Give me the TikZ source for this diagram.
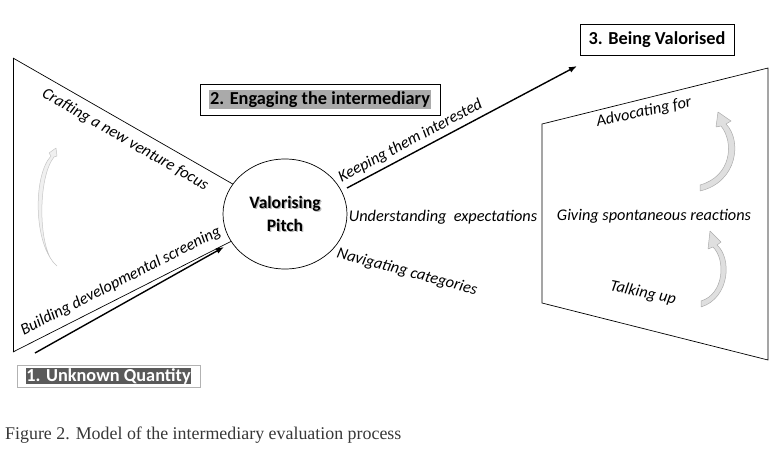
\documentclass[tikz,border=0pt]{standalone}
\usepackage{fontspec}
\setmainfont{Carlito}
\newfontfamily\capfont{Liberation Serif}
\usepackage{tikz}
\usetikzlibrary{arrows.meta,positioning,shapes.geometric}
\definecolor{hlmid}{RGB}{170,170,170}
\definecolor{hldark}{RGB}{90,90,90}
\definecolor{capgray}{RGB}{55,55,55}
\tikzset{
  lab/.style={font=\fontsize{16.3}{19}\selectfont\itshape,inner sep=1pt},
  stage/.style={draw,font=\fontsize{18.3}{21}\selectfont\bfseries,inner sep=0pt,align=center},
  arr/.style={-{Latex[length=8pt,width=6pt]},line width=1.4pt},
  edge/.style={line width=0.7pt},
  swirl/.style={draw=gray!65,fill=gray!25,line width=0.5pt,line join=round}
}
\setlength{\fboxsep}{1.5pt}
\begin{document}
\begin{tikzpicture}[x=1pt,y=-1pt,
 pitchtxt/.style={font=\fontsize{17.5}{23}\selectfont\bfseries,align=center}]
\useasboundingbox (0,0) rectangle (782,453);
\node[pitchtxt,text=gray!55] (pitchshade) at (286.2,215.2) {Valorising\\Pitch};
\node[draw,ellipse,minimum width=124pt,minimum height=110pt,inner sep=0pt,edge] (pitch) at (285,214) {};
\node[pitchtxt] (pitchtext) at (pitch.center) {Valorising\\Pitch};
\coordinate (tl) at (13,58);
\coordinate (bl) at (13,352);
\draw[edge] (tl) -- node[lab,sloped,below=7pt,pos=0.545] {Crafting a new venture focus} (pitch);
\draw[edge] (tl) -- (bl);
\draw[edge] (bl) -- node[lab,sloped,above=6pt,pos=0.525] {Building developmental screening} (pitch);
\coordinate (ustart) at (35,353);
\coordinate (uend) at (224,247);
\draw[arr] (ustart) -- (uend);
\coordinate (kstart) at (347,188);
\coordinate (kend) at (577,66);
\draw[arr] (kstart) -- node[lab,sloped,above=3pt,pos=0.3] {Keeping them interested} (kend);
\node[lab] (underst) at (443,217) {Understanding\ \ expectations};
\node[lab,rotate=-15] (navig) at (407,272) {Navigating categories};
\coordinate (q1) at (542,124);
\coordinate (q2) at (768,68);
\coordinate (q3) at (768,360);
\coordinate (q4) at (542,303);
\draw[edge] (q1) -- (q2) -- (q3) -- (q4) -- cycle;
\node[lab,rotate=12] (advoc) at (644,112) {Advocating for};
\node[lab] (giving) at (654,216) {Giving spontaneous reactions};
\node[lab,rotate=-12] (talk) at (643,293) {Talking up};
\node[stage,minimum width=240pt,minimum height=31pt] (engage) at (320,99.5) {\colorbox{hlmid}{2. Engaging the intermediary}};
\node[stage,minimum width=154pt,minimum height=31pt] (valor) at (657,39.5) {3. Being Valorised};
\node[stage,draw=gray!60,minimum width=183pt,minimum height=22pt] (unknown) at (108.5,376) {\setlength{\fboxsep}{0.3pt}\colorbox{hldark}{\textcolor{white}{1. Unknown Quantity}}};
\draw[swirl] (700,191) .. controls (738,182) and (742,140) .. (726,124) -- (731,121) -- (718,112) -- (716,127) -- (721,126) .. controls (734,142) and (732,176) .. (700,185) -- cycle;
\draw[swirl] (701,307) .. controls (730,298) and (732,258) .. (717,245) -- (721,242) -- (710,231) -- (708,249) -- (713,247) .. controls (726,260) and (724,294) .. (701,301) -- cycle;
\draw[swirl,draw=gray!45,fill=gray!12] (57,266) .. controls (33,245) and (33,175) .. (51,156) -- (49,153) -- (56,148) -- (57,156) -- (54,157) .. controls (38,177) and (38,243) .. (53,262) -- cycle;
\node[anchor=west,font=\capfont\fontsize{17.9}{20}\selectfont,text=capgray,inner sep=0pt] (caption) at (5,435) {Figure 2. Model of the intermediary evaluation process};
\end{tikzpicture}
\end{document}
